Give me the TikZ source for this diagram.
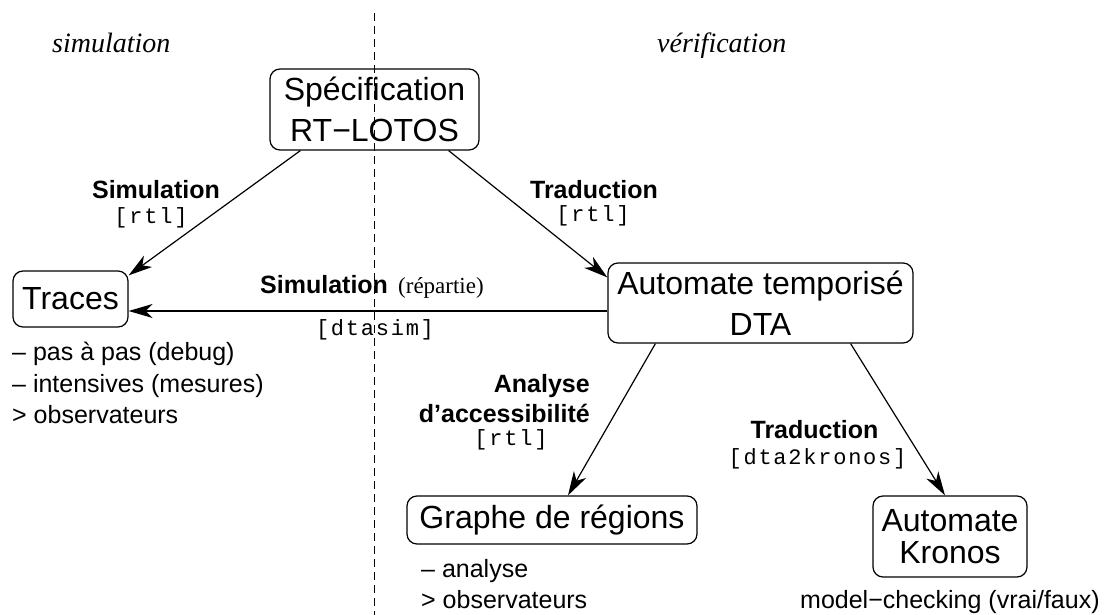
\documentclass[tikz,border=0pt]{standalone}
\usepackage{fontspec}
\setmainfont{Liberation Sans}
\newfontfamily\serfont{Liberation Serif}
\newfontfamily\ttfnt[LetterSpace=8]{Liberation Mono}
\usetikzlibrary{arrows.meta}
\begin{document}
\begin{tikzpicture}[x=1pt,y=-1pt,
  box/.style={draw, line width=1.2pt, rounded corners=10pt, inner sep=0pt, align=center, font=\fontsize{32}{41}\selectfont},
  arr/.style={-{Stealth[length=24pt,width=14pt,inset=7pt]}, line width=1.2pt},
  bl/.style={font=\fontsize{25}{30}\selectfont\bfseries, inner sep=0pt},
  tt/.style={font=\fontsize{22}{26}\selectfont\ttfnt, inner sep=0pt},
  lst/.style={font=\fontsize{25}{30}\selectfont, inner sep=0pt, anchor=base west},
  hd/.style={font=\fontsize{28}{34}\selectfont\serfont\itshape, inner sep=0pt, anchor=base west},
  sepline/.style={dash pattern=on 8pt off 5pt, line width=0.8pt}
]
\path[use as bounding box, fill=white] (0,0) rectangle (1109,615);
\coordinate (septop) at (374,13);
\coordinate (sepbot) at (374,615);
\draw[sepline] (septop) -- (sepbot);

\node[hd] (hsim) at (52,53) {simulation};
\node[hd] (hver) at (657,53) {vérification};

\node[box, minimum width=209pt, minimum height=81pt] (spec) at (374.5,109.5) {Spécification\\RT−LOTOS};
\node[box, minimum width=115pt, minimum height=56pt] (traces) at (70.5,299) {Traces};
\node[box, minimum width=305pt, minimum height=80pt] (dta) at (760.5,303) {Automate temporisé\\DTA};
\node[box, minimum width=290pt, minimum height=48pt] (graphe) at (552,520) {Graphe de régions};
\node[box, minimum width=154pt, minimum height=81pt, font=\fontsize{32}{32}\selectfont] (kronos) at (950,536.5) {Automate\\Kronos};

\draw[arr] ([xshift=31pt]spec.south west) -- ([yshift=-5pt]traces.north east);
\draw[arr] ([xshift=-31pt]spec.south east) -- ([yshift=-15pt]dta.north west);
\draw[arr] ([yshift=-8pt]dta.west) -- ([yshift=-12pt]traces.east);
\draw[arr] ([xshift=48pt]dta.south west) -- ([xshift=16pt]graphe.north);
\draw[arr] ([xshift=-63pt]dta.south east) -- ([xshift=-5pt]kronos.north);

\node[bl, anchor=base] (l1a) at (156,199) {Simulation};
\node[tt, anchor=base] (l1b) at (151,223) {[rtl]};
\node[bl, anchor=base] (l2a) at (594,199) {Traduction};
\node[tt, anchor=base] (l2b) at (593,222) {[rtl]};
\node[bl, anchor=base west] (l3a) at (260,293) {Simulation};
\node[anchor=base west, inner sep=0pt, font=\fontsize{23}{28}\selectfont\serfont] (l3b) at (398,293) {(répartie)};
\node[tt, anchor=base] (l3c) at (375,335) {[dtasim]};
\node[bl, anchor=base east] (l4a) at (590,392) {Analyse};
\node[bl, anchor=base east] (l4b) at (590,422) {d’accessibilité};
\node[tt, anchor=base] (l4c) at (511,445) {[rtl]};
\node[bl, anchor=base] (l5a) at (814.5,438) {Traduction};
\node[tt, anchor=base] (l5b) at (817.5,464) {[dta2kronos]};

\node[lst] (t1) at (12,360) {– pas à pas (debug)};
\node[lst] (t2) at (12,392) {– intensives (mesures)};
\node[lst] (t3) at (12,423) {> observateurs};
\node[lst] (g1) at (421,577) {– analyse};
\node[lst] (g2) at (421,608) {> observateurs};
\node[lst] (k1) at (800,608) {model−checking (vrai/faux)};
\end{tikzpicture}
\end{document}
